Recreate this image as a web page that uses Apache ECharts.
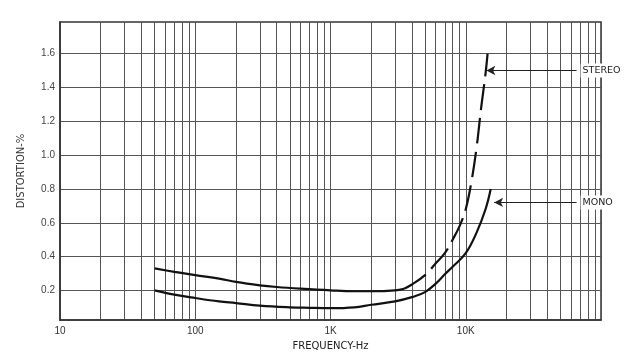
<!DOCTYPE html>
<html><head><meta charset="utf-8">
<script src="https://cdn.jsdelivr.net/npm/echarts@6/dist/echarts.min.js"></script>
<style>html,body{margin:0;padding:0;background:#fff}#c{width:637px;height:357px}</style>
</head><body><div id="c"></div>
<script>
// Frequency (Hz) / distortion (%) readings
const stereoSolidFreq = [50, 70, 100, 150, 200, 300, 400, 600, 1000, 1500, 2000, 3000, 3500];
const stereoSolidVal  = [0.33, 0.31, 0.29, 0.27, 0.25, 0.23, 0.22, 0.21, 0.20, 0.195, 0.195, 0.20, 0.21];
const stereoDashFreq  = [3500, 4000, 5000, 6000, 7000, 8000, 9000, 10000, 11000, 12000, 13000, 14000, 14500];
const stereoDashVal   = [0.21, 0.235, 0.29, 0.36, 0.42, 0.50, 0.58, 0.68, 0.84, 1.04, 1.28, 1.48, 1.60];
const monoFreq = [50, 70, 100, 150, 200, 300, 500, 700, 1000, 1500, 2000, 3000, 4000, 5000, 6000, 7000, 8000, 10000, 12000, 14000, 15300];
const monoVal  = [0.20, 0.175, 0.155, 0.135, 0.125, 0.11, 0.10, 0.097, 0.095, 0.10, 0.115, 0.135, 0.16, 0.19, 0.24, 0.295, 0.34, 0.42, 0.54, 0.68, 0.80];
const xMajorTicks = [10, 100, 1000, 10000];
const xTickLabels = ['10', '100', '1K', '10K'];
const yTicks = [0.2, 0.4, 0.6, 0.8, 1.0, 1.2, 1.4, 1.6];
const stereoLabel = 'STEREO';
const monoLabel = 'MONO';
const stereoPointer = [[14200, 1.5], [66000, 1.5]];
const monoPointer = [[16200, 0.72], [66000, 0.72]];

const xGridValues = [];
[10, 100, 1000, 10000].forEach(d => { for (let k = 1; k <= 9; k++) xGridValues.push(d * k); });
xGridValues.push(100000);

const pair = (xs, ys) => xs.map((x, i) => [x, ys[i]]);
const font = '"Liberation Sans", Arial, sans-serif';
const wide = '"DejaVu Sans", sans-serif';

const chart = echarts.init(document.getElementById('c'), null, {renderer: 'canvas'});
chart.setOption({
  animation: false,
  backgroundColor: '#fff',
  grid: {left: 60, right: 36, top: 22, bottom: 37, show: true, borderColor: '#333', borderWidth: 1.5, backgroundColor: 'transparent'},
  xAxis: {
    type: 'log', logBase: 10, min: 10, max: 100000,
    name: 'FREQUENCY-Hz', nameLocation: 'middle', nameGap: 21,
    nameTextStyle: {fontFamily: wide, fontSize: 10, color: '#222'},
    axisLine: {show: true, onZero: false, lineStyle: {color: '#333', width: 1.5}},
    axisTick: {show: false, customValues: xGridValues},
    axisLabel: {customValues: xMajorTicks, fontFamily: font, fontSize: 10, color: '#333', margin: 6,
      formatter: v => { const i = xMajorTicks.indexOf(v); return i >= 0 ? xTickLabels[i] : ''; }},
    splitLine: {show: true, lineStyle: {color: '#555', width: 1}}
  },
  yAxis: {
    type: 'value', min: 0.025, max: 1.787,
    name: 'DISTORTION-%', nameLocation: 'middle', nameGap: 34, nameRotate: 90,
    nameTextStyle: {fontFamily: wide, fontSize: 10, color: '#333'},
    axisLine: {show: true, lineStyle: {color: '#333', width: 1.5}},
    axisTick: {show: false, customValues: yTicks},
    axisLabel: {customValues: yTicks, fontFamily: font, fontSize: 10, color: '#444', margin: 5,
      formatter: v => v.toFixed(1)},
    splitLine: {show: true, lineStyle: {color: '#555', width: 1}}
  },
  series: [
    {type: 'line', data: pair(stereoSolidFreq, stereoSolidVal), smooth: 0.4, symbol: 'none',
      lineStyle: {color: '#111', width: 2.2}},
    {type: 'line', data: pair(stereoDashFreq, stereoDashVal), smooth: 0.4, symbol: 'none',
      lineStyle: {color: '#111', width: 2.2, type: [26, 8]},
      markLine: {silent: true, symbol: ['arrow', 'none'], symbolSize: [7, 9],
        lineStyle: {color: '#222', width: 1, type: 'solid'},
        label: {show: true, position: 'end', formatter: stereoLabel, fontFamily: wide, fontSize: 9.5, color: '#222',
          backgroundColor: '#fff', padding: [2, 2, 2, 2], distance: 4},
        data: [[{coord: stereoPointer[0]}, {coord: stereoPointer[1]}]]}},
    {type: 'line', data: pair(monoFreq, monoVal), smooth: 0.4, symbol: 'none',
      lineStyle: {color: '#111', width: 2.2},
      markLine: {silent: true, symbol: ['arrow', 'none'], symbolSize: [7, 9],
        lineStyle: {color: '#222', width: 1, type: 'solid'},
        label: {show: true, position: 'end', formatter: monoLabel, fontFamily: wide, fontSize: 9.5, color: '#222',
          backgroundColor: '#fff', padding: [2, 2, 2, 2], distance: 4},
        data: [[{coord: monoPointer[0]}, {coord: monoPointer[1]}]]}}
  ]
});
</script></body></html>
